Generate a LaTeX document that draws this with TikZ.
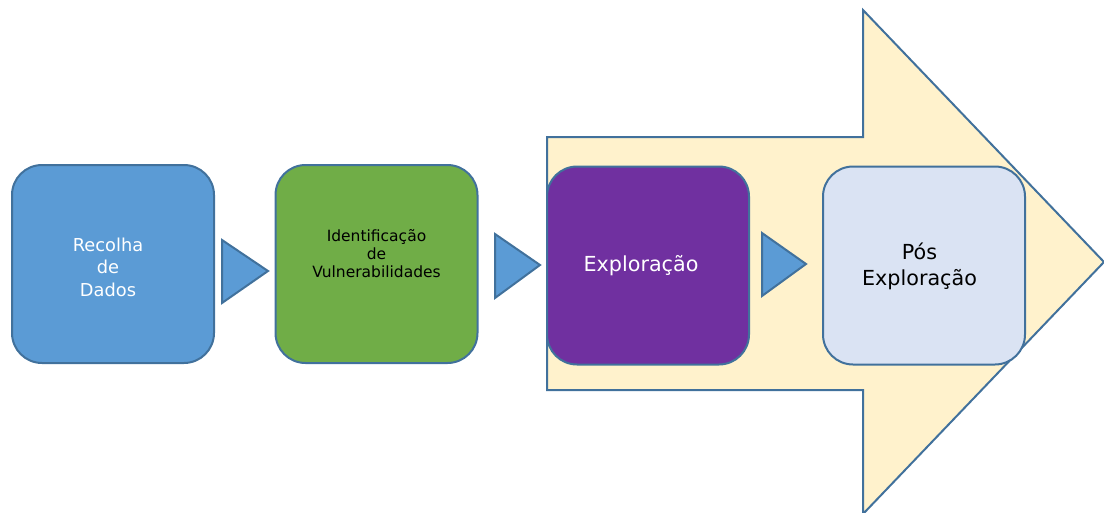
\documentclass[tikz,border=0pt]{standalone}
\usepackage{fontspec}
\setmainfont{DejaVu Sans}
\definecolor{bord}{HTML}{41719C}
\definecolor{cblue}{HTML}{5B9BD5}
\definecolor{cgreen}{HTML}{70AD47}
\definecolor{cpurple}{HTML}{7030A0}
\definecolor{clight}{HTML}{DAE3F3}
\definecolor{cyellow}{HTML}{FFF2CC}
\begin{document}
\begin{tikzpicture}[x=1pt,y=-1pt,
  box/.style={draw=bord, line width=2pt, rounded corners=30pt, minimum width=202pt, minimum height=198pt, inner sep=0pt},
  lbl/.style={align=center, inner sep=0pt},
  tri/.style={draw=bord, line width=2pt, fill=cblue, line join=miter},
  bigarrow/.style={draw=bord, line width=2pt, fill=cyellow, line join=miter}]
\useasboundingbox (0,0) rectangle (1104,512);
\begin{scope}
\clip (0,0) rectangle (1104,512);
\draw[bigarrow] (547,137) -- (863,137) -- (863,10) -- (1104,262) -- (863,514) -- (863,390) -- (547,390) -- cycle;
\end{scope}
\node[box, fill=cblue] (b1) at (113,264) {};
\node[lbl, text=white, font=\fontsize{17.8}{22.5}\selectfont] (t1) at (108,267) {Recolha\\de\\Dados};
\node[box, fill=cgreen] (b2) at (376.5,264) {};
\node[lbl, font=\fontsize{15.5}{18}\selectfont] (t2) at (376.5,254) {Identificação\\de\\Vulnerabilidades};
\node[box, fill=cpurple] (b3) at (648,265.5) {};
\node[lbl, text=white, font=\fontsize{20.7}{26}\selectfont] (t3) at (641,266) {Exploração};
\node[box, fill=clight] (b4) at (924,265.5) {};
\node[lbl, font=\fontsize{20.7}{26}\selectfont] (t4) at (919.5,266) {Pós\\Exploração};
\draw[tri] (222,240) -- (268,271) -- (222,303) -- cycle;
\draw[tri] (495,234) -- (540,265) -- (495,298) -- cycle;
\draw[tri] (762,233) -- (806,264) -- (762,296) -- cycle;
\end{tikzpicture}
\end{document}
